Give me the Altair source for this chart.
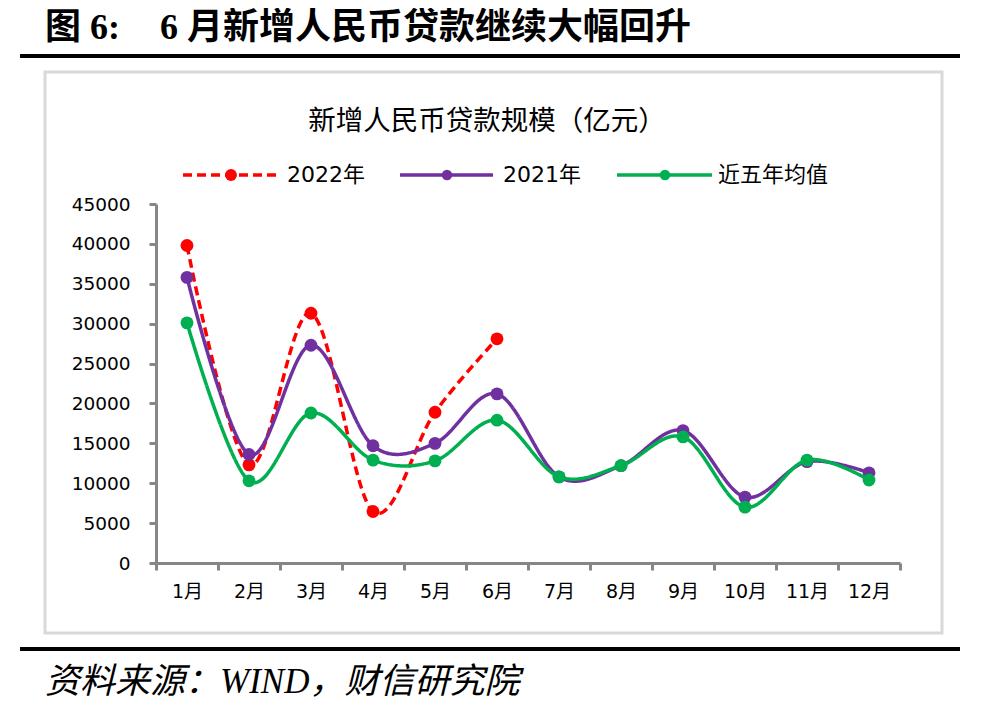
import altair as alt
import pandas as pd

months = ["1月", "2月", "3月", "4月", "5月", "6月", "7月", "8月", "9月", "10月", "11月", "12月"]
series_names = ["2022年", "2021年", "近五年均值"]
v2022 = [39800, 12300, 31300, 6454, 18900, 28100]
v2021 = [35800, 13600, 27300, 14700, 15000, 21200, 10800, 12200, 16600, 8262, 12700, 11300]
vavg = [30100, 10300, 18800, 12900, 12800, 17900, 10800, 12200, 15800, 7000, 12900, 10400]
colors = ["#FF0000", "#7030A0", "#00B050"]

rows = []
for name, vals in zip(series_names, [v2022, v2021, vavg]):
    for m, v in zip(months, vals):
        rows.append({"month": m, "series": name, "value": v})
df = pd.DataFrame(rows)

W, H = 744, 359
CJK = "Noto Sans CJK SC"

xenc = alt.X("month:N", sort=months, title=None,
             scale=alt.Scale(type="band", paddingInner=0, paddingOuter=0),
             axis=alt.Axis(labelAngle=0, domainColor="#868686", domainWidth=3,
                           tickColor="#868686", tickWidth=3, tickSize=7, tickBand="extent",
                           labelFont="DejaVu Sans, " + CJK, labelFontSize=19, labelColor="#000000",
                           labelPadding=12, grid=False))
yenc = alt.Y("value:Q", title=None,
             scale=alt.Scale(domain=[0, 45000], nice=False),
             axis=alt.Axis(values=list(range(0, 45001, 5000)), format="d", domainColor="#868686", domainWidth=3,
                           tickColor="#868686", tickWidth=3, tickSize=7,
                           labelFont="DejaVu Sans", labelFontSize=18.5, labelColor="#000000",
                           labelPadding=19, grid=False))

one = alt.Data(values=[{}])

frame = alt.Chart(one).mark_rect(filled=False, stroke="#D9D9D9", strokeWidth=3).encode(
    x=alt.value(-111), x2=alt.value(786), y=alt.value(-132), y2=alt.value(429))

layers = [frame]
for i, name in enumerate(series_names):
    sub = df[df.series == name]
    dash = [9, 5] if i == 0 else [1, 0]
    line = alt.Chart(sub).mark_line(interpolate="cardinal", strokeWidth=3.5, color=colors[i],
                                    strokeDash=dash).encode(x=xenc, y=yenc)
    pts = alt.Chart(sub).mark_circle(size=165, opacity=1, color=colors[i]).encode(x=xenc, y=yenc)
    layers += [line, pts]

# legend (decorative, drawn manually)
leg_y = -29
leg = [(27, 122, 75, 131), (244, 337, 291, 347), (461, 556, 509, 562)]
leg_sizes = [140, 110, 110]
for i, (x0, x1, xc, xt) in enumerate(leg):
    dash = [9, 5] if i == 0 else [1, 0]
    layers.append(alt.Chart(one).mark_rule(color=colors[i], strokeWidth=3.5, strokeDash=dash).encode(
        x=alt.value(x0), x2=alt.value(x1), y=alt.value(leg_y)))
    layers.append(alt.Chart(one).mark_circle(size=leg_sizes[i], opacity=1, color=colors[i]).encode(
        x=alt.value(xc), y=alt.value(leg_y)))
    layers.append(alt.Chart(one).mark_text(text=series_names[i], align="left", baseline="middle",
                                           font="DejaVu Sans, " + CJK, fontSize=22, color="#000000").encode(
        x=alt.value(xt), y=alt.value(leg_y)))

# titles and rules
layers.append(alt.Chart(one).mark_text(text="新增人民币贷款规模（亿元）", align="center", baseline="middle",
                                       font=CJK, fontSize=27.5, color="#000000").encode(
    x=alt.value(331), y=alt.value(-82)))
layers.append(alt.Chart(one).mark_text(text="图 6:", align="left", baseline="alphabetic",
                                       font="Liberation Serif, " + CJK, fontSize=36, fontWeight="bold",
                                       color="#000000").encode(x=alt.value(-111), y=alt.value(-165)))
layers.append(alt.Chart(one).mark_text(text="6 月新增人民币贷款继续大幅回升", align="left", baseline="alphabetic",
                                       font="Liberation Serif, " + CJK, fontSize=36, fontWeight="bold",
                                       color="#000000").encode(x=alt.value(4), y=alt.value(-165)))
layers.append(alt.Chart(one).mark_rule(color="#000000", strokeWidth=4).encode(
    x=alt.value(-136), x2=alt.value(809), y=alt.value(-148)))
layers.append(alt.Chart(one).mark_rule(color="#000000", strokeWidth=4).encode(
    x=alt.value(-136), x2=alt.value(809), y=alt.value(445)))
layers.append(alt.Chart(one).mark_text(text="资料来源：WIND，财信研究院", align="left", baseline="alphabetic",
                                       font="Liberation Serif, " + CJK, fontSize=35, fontStyle="italic",
                                       color="#000000").encode(x=alt.value(-111), y=alt.value(489)))

chart = alt.layer(*layers).properties(
    width=W, height=H,
    autosize=alt.AutoSizeParams(type="none"),
    padding={"left": 148, "top": 196, "right": 60, "bottom": 145},
).configure_view(stroke=None)

chart.save("out.html", embed_options={"renderer": "svg", "actions": False})
